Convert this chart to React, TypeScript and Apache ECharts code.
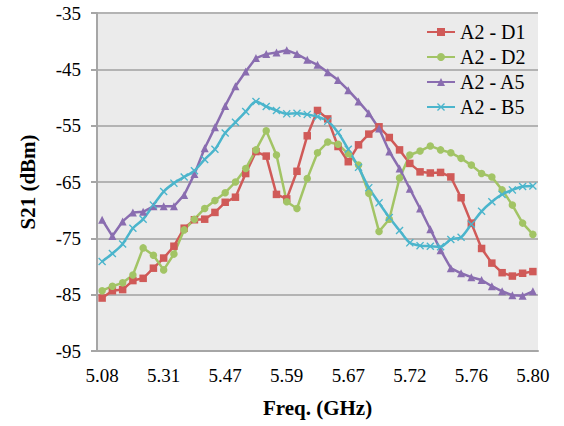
import React, { useEffect, useRef } from "react";
import * as echarts from "echarts";

const tickLabels = ["5.08", "5.31", "5.47", "5.59", "5.67", "5.72", "5.76", "5.80"];
const pointCount = 43;
const labelStep = 6;
const categories = Array.from({ length: pointCount }, (_, i) =>
  i % labelStep === 0 ? tickLabels[i / labelStep] : `#${i}`
);

const seriesNames = ["A2 - D1", "A2 - D2", "A2 - A5", "A2 - B5"];

const d1 = [
  -85.6, -84.3, -84.1, -82.5, -82.1, -80.3, -78.5, -76.4, -73.2, -71.7, -71.6,
  -70.4, -68.6, -67.7, -63.5, -59.6, -60.4, -67.2, -68.0, -63.1, -56.8, -52.3,
  -53.8, -58.7, -61.4, -58.4, -56.5, -55.2, -57.1, -59.3, -61.7, -63.2, -63.4,
  -63.3, -64.1, -67.8, -72.3, -76.8, -79.4, -81.1, -81.7, -81.2, -80.9,
];
const d2 = [
  -84.3, -83.5, -82.9, -81.5, -76.7, -78.0, -80.6, -77.8, -73.5, -71.6, -69.7,
  -68.3, -66.9, -65.0, -62.6, -59.3, -55.9, -60.2, -68.5, -69.7, -64.4, -59.8,
  -57.9, -58.3, -60.0, -62.0, -67.0, -73.8, -71.6, -64.3, -60.2, -59.5, -58.6,
  -59.3, -59.8, -60.8, -62.0, -63.5, -64.1, -66.4, -69.1, -72.3, -74.3,
];
const a5 = [
  -71.7, -74.6, -72.0, -70.4, -70.3, -69.3, -69.3, -69.3, -67.3, -63.6, -59.0,
  -55.3, -51.5, -48.0, -45.4, -43.0, -42.3, -42.0, -41.6, -42.3, -43.3, -44.2,
  -45.5, -46.9, -48.7, -50.7, -52.8, -55.5, -59.6, -62.6, -66.2, -69.7, -73.4,
  -77.1, -80.3, -81.2, -81.9, -82.4, -83.5, -84.4, -85.1, -85.2, -84.4,
];
const b5 = [
  -79.1, -77.7, -76.0, -73.2, -71.6, -69.1, -66.7, -65.2, -64.1, -63.0, -61.0,
  -59.2, -56.3, -54.4, -52.5, -50.7, -51.6, -52.3, -52.9, -52.8, -53.0, -53.4,
  -54.2, -56.2, -59.2, -62.4, -66.0, -68.7, -71.3, -73.6, -75.8, -76.3, -76.4,
  -76.5, -75.2, -74.8, -72.5, -70.2, -68.5, -67.2, -66.4, -65.8, -65.7,
];

const colors = ["#D05A58", "#A2C465", "#8A6DB0", "#4BB5CC"];
const xSymbol =
  "path://M0,1.2 L1.2,0 L5,3.8 L8.8,0 L10,1.2 L6.2,5 L10,8.8 L8.8,10 L5,6.2 L1.2,10 L0,8.8 L3.8,5 Z";
const symbols = ["rect", "circle", "triangle", xSymbol];
const symbolSizes = [7.5, 7.5, 8, 8];
const dataSets = [d1, d2, a5, b5];

const FONT = "'Liberation Serif', 'Times New Roman', serif";

export default function App() {
  const ref = useRef<HTMLDivElement>(null);
  useEffect(() => {
    document.body.style.margin = "0";
    const chart = echarts.init(ref.current!, null, { renderer: "svg" });
    chart.setOption({
      animation: false,
      grid: {
        left: 97,
        right: 26,
        top: 13,
        bottom: 75,
        show: true,
        backgroundColor: "#EBEBEB",
        borderWidth: 0,
      },
      legend: {
        orient: "vertical",
        left: 421,
        top: 17,
        itemWidth: 28,
        itemHeight: 10,
        itemGap: 5,
        data: seriesNames,
        textStyle: { fontFamily: FONT, fontSize: 20, color: "#000" },
      },
      xAxis: {
        type: "category",
        data: categories,
        boundaryGap: true,
        name: "Freq. (GHz)",
        nameLocation: "middle",
        nameGap: 46,
        nameTextStyle: {
          fontFamily: FONT,
          fontSize: 21,
          fontWeight: "bold",
          color: "#000",
        },
        axisLine: { show: true, lineStyle: { color: "#A6A6A6", width: 2 } },
        axisTick: { show: false },
        axisLabel: {
          interval: labelStep - 1,
          margin: 15,
          fontFamily: FONT,
          fontSize: 19,
          color: "#000",
        },
        splitLine: { show: false },
      },
      yAxis: {
        type: "value",
        min: -95,
        max: -35,
        interval: 10,
        name: "S21 (dBm)",
        nameLocation: "middle",
        nameGap: 59,
        nameTextStyle: {
          fontFamily: FONT,
          fontSize: 21,
          fontWeight: "bold",
          color: "#000",
        },
        axisLine: { show: true, lineStyle: { color: "#A6A6A6", width: 2 } },
        axisTick: {
          show: true,
          inside: false,
          length: 6,
          lineStyle: { color: "#A6A6A6", width: 2 },
        },
        axisLabel: {
          margin: 16,
          fontFamily: FONT,
          fontSize: 19,
          color: "#000",
        },
        splitLine: { show: true, lineStyle: { color: "#B3B3B3", width: 2 } },
      },
      series: seriesNames.map((name, k) => ({
        name,
        type: "line",
        data: dataSets[k],
        smooth: k === 3 ? 0.3 : false,
        symbol: symbols[k],
        symbolSize: symbolSizes[k],
        showAllSymbol: true,
        lineStyle: { color: colors[k], width: 2.5 },
        itemStyle: { color: colors[k] },
      })),
    });
    return () => chart.dispose();
  }, []);
  return <div ref={ref} style={{ width: 564, height: 426 }} />;
}
